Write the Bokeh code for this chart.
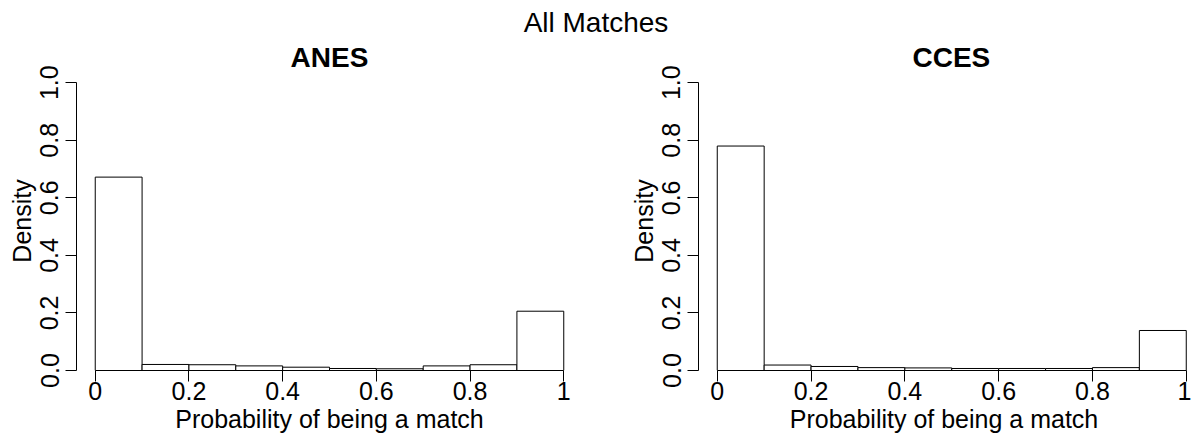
from bokeh.plotting import figure
from bokeh.layouts import column, row
from bokeh.models import Range1d, FixedTicker, Label
from bokeh.embed import file_html
from bokeh.resources import INLINE

# ---- data ----
bin_edges = [0.0, 0.1, 0.2, 0.3, 0.4, 0.5, 0.6, 0.7, 0.8, 0.9, 1.0]
anes_density = [0.672, 0.021, 0.020, 0.016, 0.0115, 0.007, 0.006, 0.016, 0.020, 0.206]
cces_density = [0.780, 0.019, 0.014, 0.010, 0.009, 0.007, 0.007, 0.007, 0.010, 0.139]
x_ticks = [0, 0.2, 0.4, 0.6, 0.8, 1]
x_tick_labels = ["0", "0.2", "0.4", "0.6", "0.8", "1"]
y_ticks = [0, 0.2, 0.4, 0.6, 0.8, 1]
y_tick_labels = ["0.0", "0.2", "0.4", "0.6", "0.8", "1.0"]
panel_titles = ["ANES", "CCES"]
main_title = "All Matches"
x_label = "Probability of being a match"
y_label = "Density"

FONT = "Liberation Sans"
AX_FS = "25px"
TITLE_FS = "28px"
HEADER_H = 40
PANEL_H = 440 - HEADER_H


def make_panel(title, dens, width, bl, br, x_end, title_align, title_offset):
    p = figure(width=width, height=PANEL_H,
               x_range=Range1d(-0.04, x_end), y_range=Range1d(0, 1.039),
               toolbar_location=None, output_backend="svg",
               min_border_left=bl, min_border_right=br,
               min_border_top=PANEL_H - 70 - 299, min_border_bottom=70)
    p.quad(left=bin_edges[:-1], right=bin_edges[1:], bottom=0, top=dens,
           fill_color="white", line_color="black", line_width=1)
    p.grid.visible = False
    p.outline_line_color = None
    p.background_fill_color = "white"
    p.border_fill_color = "white"

    p.title.text = title
    p.title.text_font = FONT
    p.title.text_font_size = TITLE_FS
    p.title.text_font_style = "bold"
    p.title.align = title_align
    p.title.offset = title_offset
    p.title.standoff = -3
    p.title.text_color = "black"

    xa = p.xaxis[0]
    xa.ticker = FixedTicker(ticks=x_ticks)
    xa.major_label_overrides = dict(zip(x_ticks, x_tick_labels))
    xa.bounds = (0, 1)
    ya = p.yaxis[0]
    ya.ticker = FixedTicker(ticks=y_ticks)
    ya.major_label_overrides = dict(zip(y_ticks, y_tick_labels))
    ya.bounds = (0, 1)
    ya.major_label_orientation = "vertical"
    xa.axis_label = x_label
    ya.axis_label = y_label
    for ax in (xa, ya):
        ax.minor_tick_line_color = None
        ax.major_tick_in = 0
        ax.major_tick_out = 11
        ax.axis_line_color = "black"
        ax.major_tick_line_color = "black"
        ax.major_label_text_font = FONT
        ax.major_label_text_font_size = AX_FS
        ax.major_label_text_color = "black"
        ax.axis_label_text_font = FONT
        ax.axis_label_text_font_size = AX_FS
        ax.axis_label_text_font_style = "normal"
        ax.axis_label_text_color = "black"
    xa.major_label_standoff = 0
    xa.axis_label_standoff = 2
    ya.major_label_standoff = 7
    ya.axis_label_standoff = 2
    return p


left = make_panel(panel_titles[0], anes_density, 595, 76, 13, 1.04, "center", 0)
right = make_panel(panel_titles[1], cces_density, 596, 103, 2, 1.0069, "left", 214)

header = figure(width=1191, height=HEADER_H, x_range=Range1d(0, 1191), y_range=Range1d(0, HEADER_H),
                toolbar_location=None, output_backend="svg", min_border=0, title=None)
header.axis.visible = False
header.grid.visible = False
header.outline_line_color = None
header.add_layout(Label(x=595.5, y=HEADER_H - 22.3, text=main_title, text_align="center",
                        text_baseline="middle", text_font=FONT,
                        text_font_size=TITLE_FS, text_color="black"))

layout = column(header, row(left, right))
open("out.html", "w").write(file_html(layout, INLINE))
